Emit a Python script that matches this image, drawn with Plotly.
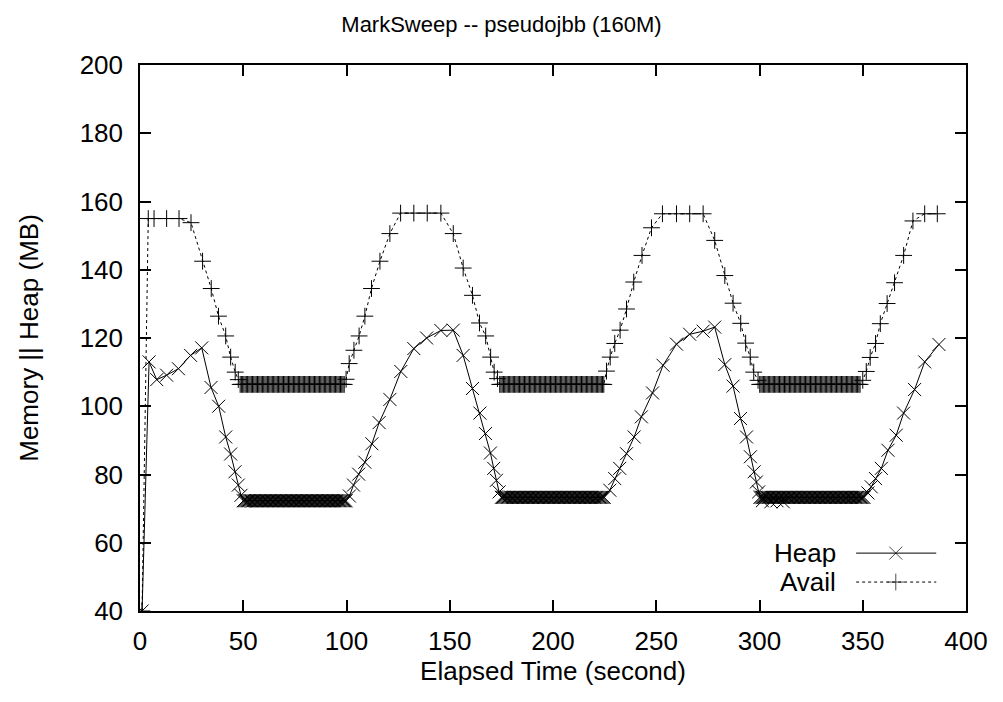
import numpy as np
import plotly.graph_objects as go

# Sampled heap usage (MB) on the ramps between collections
heap_t = [1.0, 4.4, 8.1, 12.9, 18.6, 24.5, 29.9, 34.4, 38.1, 41.5, 43.9, 46.0, 47.6, 48.9,
          101.4, 103.4, 105.9, 108.9, 112.3, 115.8, 121.0, 126.3, 132.6, 138.8, 145.7, 151.7,
          156.5, 161.0, 164.6, 167.3, 169.7, 171.3, 172.6, 173.9,
          227.5, 229.9, 232.3, 235.6, 239.3, 242.8, 248.2, 253.3, 259.8, 266.2, 272.7, 278.3,
          283.2, 287.2, 290.8, 293.7, 295.6, 297.4, 298.5, 299.6,
          301.4, 305.5, 308.5, 311.5,
          352.5, 354.1, 356.2, 359.0, 362.2, 366.2, 369.8, 375.1, 380.0, 386.9]
heap_v = [40.0, 113.0, 107.8, 109.1, 111.0, 114.9, 117.1, 105.5, 100.0, 91.0, 86.0, 80.8, 76.9, 73.9,
          73.7, 76.9, 80.1, 83.6, 89.0, 95.2, 102.0, 110.2, 116.9, 120.0, 122.2, 122.3,
          114.9, 105.2, 98.0, 92.0, 86.3, 81.8, 78.3, 74.9,
          75.4, 78.8, 81.8, 86.1, 91.0, 96.9, 103.9, 112.0, 118.2, 121.1, 122.0, 123.2,
          112.2, 105.9, 96.4, 91.0, 85.2, 80.8, 77.8, 74.9,
          72.3, 72.0, 72.3, 72.0,
          74.6, 76.4, 78.8, 81.8, 87.1, 91.5, 98.0, 104.9, 113.0, 118.1]

# Heap plateaus (start s, end s, MB) sampled every SAMPLE_STEP seconds
heap_flats = [(50.0, 100.0, 72.3), (175.0, 225.0, 73.3), (300.2, 350.9, 73.3)]

# Sampled available memory (MB) on the ramps
avail_t = [1.0, 4.0, 6.8, 12.9, 18.9, 24.7, 30.3, 34.5, 38.0, 41.5, 43.9, 46.1, 47.6,
           99.8, 101.3, 103.6, 106.1, 108.9, 112.1, 116.2, 121.0, 126.2, 132.6, 139.1, 145.7,
           151.7, 156.5, 161.0, 164.4, 167.4, 169.8, 171.5, 173.1,
           225.9, 227.7, 229.9, 232.5, 235.6, 239.1, 243.1, 247.7, 253.0, 259.8, 266.2, 272.7,
           278.3, 283.2, 287.2, 290.9, 293.3, 295.5, 297.2, 299.3,
           350.0, 351.7, 353.6, 356.2, 358.5, 361.8, 365.4, 369.8, 374.3, 380.0, 386.1]
avail_v = [40.0, 155.0, 155.0, 155.0, 155.0, 153.8, 142.5, 134.5, 126.4, 120.6, 114.4, 110.0, 107.8,
           107.9, 112.5, 116.4, 120.6, 126.4, 134.5, 142.5, 150.6, 156.6, 156.6, 156.6, 156.6,
           150.6, 140.5, 132.5, 124.4, 120.6, 114.4, 110.0, 108.1,
           110.3, 114.4, 118.4, 122.3, 128.5, 136.4, 144.2, 152.3, 156.4, 156.4, 156.4, 156.4,
           148.6, 138.3, 130.2, 124.3, 118.5, 114.4, 110.0, 107.6,
           107.6, 110.2, 114.3, 118.4, 124.2, 130.1, 136.2, 144.2, 154.3, 156.4, 156.4]

avail_flats = [(48.5, 99.2, 106.4), (174.2, 225.1, 106.4), (300.1, 349.2, 106.4)]

SAMPLE_STEP = 0.6

x_ticks = [0, 50, 100, 150, 200, 250, 300, 350, 400]
y_ticks = [40, 60, 80, 100, 120, 140, 160, 180, 200]


def merge(ts, vs, flats):
    pts = list(zip(ts, vs))
    for a, b, v in flats:
        for t in np.arange(a, b + 1e-9, SAMPLE_STEP):
            pts.append((float(t), v))
    pts.sort(key=lambda p: p[0])
    return [p[0] for p in pts], [p[1] for p in pts]


hx, hy = merge(heap_t, heap_v, heap_flats)
ax, ay = merge(avail_t, avail_v, avail_flats)

FONT = "Liberation Sans, Arial, Helvetica, sans-serif"
BLACK = "#000000"
X_SIZE = 13
PLUS_SIZE = 12

fig = go.Figure()

fig.add_trace(go.Scatter(
    x=hx, y=hy, mode="lines+markers", name="Heap",
    line=dict(color=BLACK, width=1),
    marker=dict(symbol="x-thin-open", size=X_SIZE, line=dict(color=BLACK, width=1)),
    showlegend=False,
))
fig.add_trace(go.Scatter(
    x=ax, y=ay, mode="lines+markers", name="Avail",
    line=dict(color=BLACK, width=1, dash="dot"),
    marker=dict(symbol="cross-thin-open", size=PLUS_SIZE, line=dict(color=BLACK, width=1)),
    showlegend=False,
))

# Key samples drawn on an overlay axis spanning the plot area (0..1)
key_x = [0.867, 0.915, 0.964]
fig.add_trace(go.Scatter(
    x=key_x, y=[0.106] * 3, xaxis="x2", yaxis="y2", mode="lines+markers",
    line=dict(color=BLACK, width=1),
    marker=dict(symbol="x-thin-open", size=[0, X_SIZE, 0], line=dict(color=BLACK, width=1)),
    showlegend=False, hoverinfo="skip",
))
fig.add_trace(go.Scatter(
    x=key_x, y=[0.053] * 3, xaxis="x2", yaxis="y2", mode="lines+markers",
    line=dict(color=BLACK, width=1, dash="dot"),
    marker=dict(symbol="cross-thin-open", size=[0, PLUS_SIZE, 0], line=dict(color=BLACK, width=1)),
    showlegend=False, hoverinfo="skip",
))

axis_common = dict(
    showline=True, linecolor=BLACK, linewidth=1.5, mirror="ticks",
    ticks="inside", ticklen=11, tickwidth=1.5, tickcolor=BLACK,
    showgrid=False, zeroline=False,
    tickfont=dict(family=FONT, size=26, color=BLACK),
)

fig.update_layout(
    width=1003, height=702,
    margin=dict(l=140, r=37, t=65, b=91),
    paper_bgcolor="white", plot_bgcolor="white",
    title=dict(text="MarkSweep -- pseudojbb (160M)", x=0.5, xref="container",
               y=0.965, yanchor="middle",
               font=dict(family=FONT, size=22, color=BLACK)),
    xaxis=dict(range=[0, 400], tickvals=x_ticks, ticklabelstandoff=6,
               title=dict(text="Elapsed Time (second)", standoff=1,
                          font=dict(family=FONT, size=26, color=BLACK)),
               **axis_common),
    yaxis=dict(range=[40, 200], tickvals=y_ticks, ticklabelstandoff=10,
               title=dict(text="Memory || Heap (MB)", standoff=34,
                          font=dict(family=FONT, size=26, color=BLACK)),
               **axis_common),
    xaxis2=dict(overlaying="x", range=[0, 1], visible=False),
    yaxis2=dict(overlaying="y", range=[0, 1], visible=False),
    annotations=[
        dict(text="Heap", x=0.845, y=0.106, xref="paper", yref="paper",
             xanchor="right", yanchor="middle", showarrow=False,
             font=dict(family=FONT, size=26, color=BLACK)),
        dict(text="Avail", x=0.845, y=0.053, xref="paper", yref="paper",
             xanchor="right", yanchor="middle", showarrow=False,
             font=dict(family=FONT, size=26, color=BLACK)),
    ],
)

fig.write_html("out.html")
